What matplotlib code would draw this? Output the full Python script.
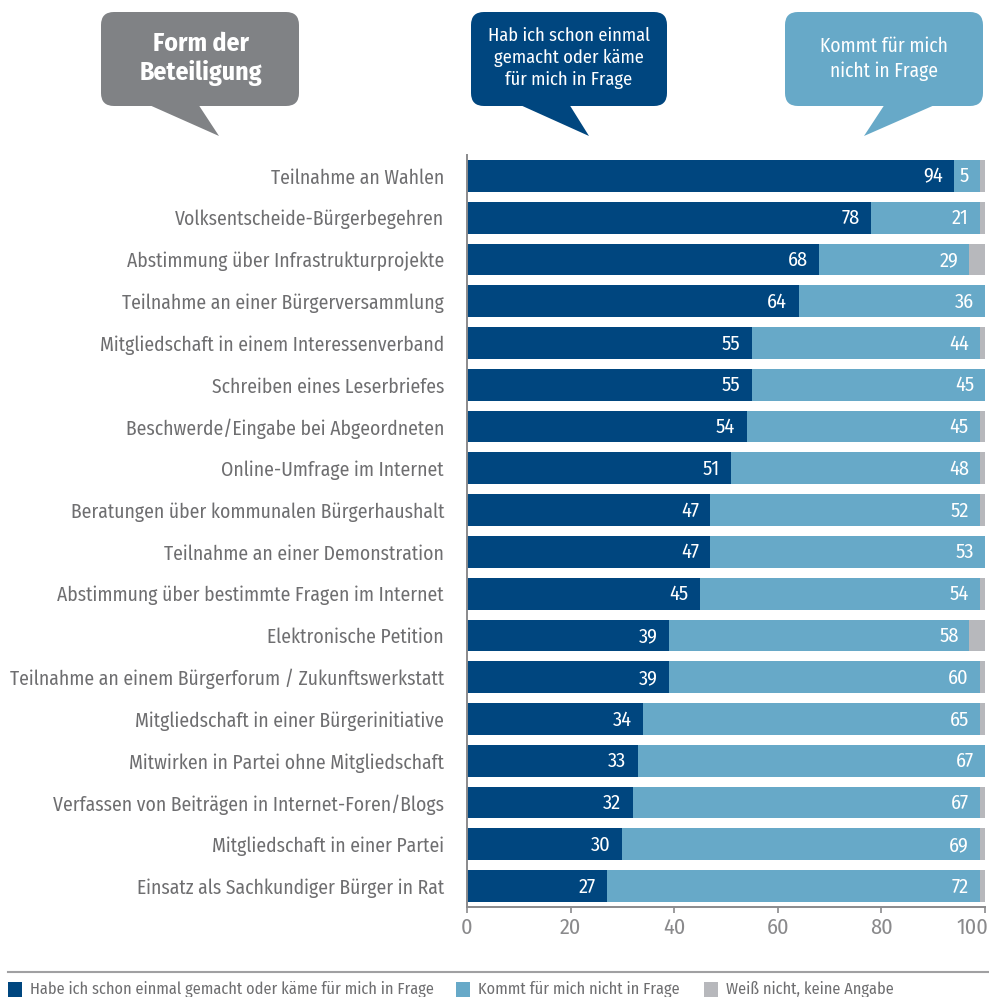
import matplotlib
matplotlib.use("Agg")
import matplotlib.pyplot as plt
import matplotlib.transforms as mtrans
from matplotlib.patches import FancyBboxPatch, Polygon, Rectangle
from matplotlib.lines import Line2D

FONT = ['Fira Sans Condensed', 'DejaVu Sans']
plt.rcParams['font.family'] = FONT

categories = [
    "Teilnahme an Wahlen",
    "Volksentscheide-Bürgerbegehren",
    "Abstimmung über Infrastrukturprojekte",
    "Teilnahme an einer Bürgerversammlung",
    "Mitgliedschaft in einem Interessenverband",
    "Schreiben eines Leserbriefes",
    "Beschwerde/Eingabe bei Abgeordneten",
    "Online-Umfrage im Internet",
    "Beratungen über kommunalen Bürgerhaushalt",
    "Teilnahme an einer Demonstration",
    "Abstimmung über bestimmte Fragen im Internet",
    "Elektronische Petition",
    "Teilnahme an einem Bürgerforum / Zukunftswerkstatt",
    "Mitgliedschaft in einer Bürgerinitiative",
    "Mitwirken in Partei ohne Mitgliedschaft",
    "Verfassen von Beiträgen in Internet-Foren/Blogs",
    "Mitgliedschaft in einer Partei",
    "Einsatz als Sachkundiger Bürger in Rat",
]
ja = [94, 78, 68, 64, 55, 55, 54, 51, 47, 47, 45, 39, 39, 34, 33, 32, 30, 27]
nein = [5, 21, 29, 36, 44, 45, 45, 48, 52, 53, 54, 58, 60, 65, 67, 67, 69, 72]
weiss = [1, 1, 3, 0, 1, 0, 1, 1, 1, 0, 1, 3, 1, 1, 0, 1, 1, 1]
xticks = [0, 20, 40, 60, 80, 100]
legend_labels = ["Habe ich schon einmal gemacht oder käme für mich in Frage",
                 "Kommt für mich nicht in Frage",
                 "Weiß nicht, keine Angabe"]
head_left = "Form der\nBeteiligung"
head_mid = "Hab ich schon einmal\ngemacht oder käme\nfür mich in Frage"
head_right = "Kommt für mich\nnicht in Frage"

c_dark = "#00467F"
c_light = "#67A9C8"
c_gray = "#B7B8BC"
c_text = "#6E6E70"
c_axis = "#8A8A8C"
c_head = "#808285"

W, H = 989, 997
fig = plt.figure(figsize=(W / 100, H / 100), dpi=100)

ax = fig.add_axes([467 / W, 1 - 907 / H, 518 / W, 752 / H])
ax.patch.set_alpha(0)
y = list(range(len(categories)))
bh = 0.76
ax.barh(y, ja, height=bh, color=c_dark, linewidth=0)
ax.barh(y, nein, left=ja, height=bh, color=c_light, linewidth=0)
left3 = [a + b for a, b in zip(ja, nein)]
ax.barh(y, weiss, left=left3, height=bh, color=c_gray, linewidth=0)

for i in y:
    ax.text(ja[i] - 2.2, i + 0.02, str(ja[i]), color="white", ha="right", va="center", fontsize=14.6)
    ax.text(left3[i] - 2.1, i + 0.02, str(nein[i]), color="white", ha="right", va="center", fontsize=14.6)

ax.set_xlim(0, 100)
ax.set_ylim(len(categories) - 0.5, -0.5)
ax.set_yticks(y)
ax.set_yticklabels(categories, fontsize=14.1, color=c_text)
ax.tick_params(axis="y", length=0, pad=16.5)
ax.set_xticks(xticks)
ax.set_xticklabels([str(t) for t in xticks], fontsize=16, color=c_axis)
ax.tick_params(axis="x", length=4.5, width=1.2, color=c_axis, pad=3)
last = ax.get_xticklabels()[-1]
last.set_horizontalalignment("right")
last.set_transform(last.get_transform() + mtrans.ScaledTranslation(3 / 100, 0, fig.dpi_scale_trans))
for s in ["top", "right"]:
    ax.spines[s].set_visible(False)
for s in ["left", "bottom"]:
    ax.spines[s].set_color(c_axis)
    ax.spines[s].set_linewidth(1.4)

# header callouts and legend (pixel coordinates)
ov = fig.add_axes([0, 0, 1, 1], zorder=-1)
ov.set_xlim(0, W)
ov.set_ylim(H, 0)
ov.axis("off")

def bubble(x0, x1, y0, y1, tail, color):
    r = 13
    ov.add_patch(FancyBboxPatch((x0 + r, y0 + r), x1 - x0 - 2 * r, y1 - y0 - 2 * r,
                                boxstyle="round,pad=13", fc=color, ec="none"))
    ov.add_patch(Polygon(tail, closed=True, fc=color, ec="none"))

bubble(101, 299, 12, 106, [(147, 104), (198, 104), (219, 136)], c_head)
bubble(471, 667, 12, 106, [(518, 104), (569, 104), (589, 136)], c_dark)
bubble(785, 983, 12, 106, [(885, 104), (937, 104), (864, 136)], c_light)

ov.text(201, 59, head_left, color="white", ha="center", va="center",
        fontsize=18.5, fontweight="bold", linespacing=1.2)
ov.text(569, 58, head_mid, color="white", ha="center", va="center",
        fontsize=13.3, linespacing=1.3)
ov.text(884, 59, head_right, color="white", ha="center", va="center",
        fontsize=14, linespacing=1.38)

ov.add_line(Line2D([8, 989], [972, 972], color="#A0A0A2", lw=1.5))
legend_x = [8, 456, 704]
for lx, lab, col in zip(legend_x, legend_labels, [c_dark, c_light, c_gray]):
    ov.add_patch(Rectangle((lx, 982), 14, 15, fc=col, ec="none"))
    ov.text(lx + 22, 989, lab, color=c_text, fontsize=11.7, va="center", ha="left")

fig.savefig("out.png", dpi=100)
